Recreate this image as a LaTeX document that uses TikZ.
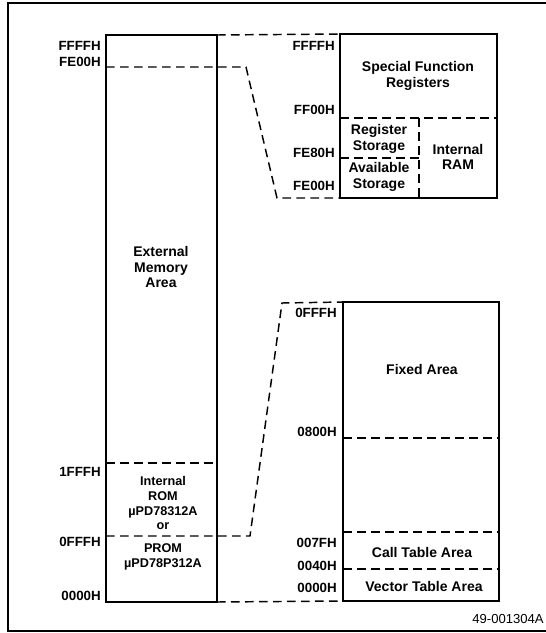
\documentclass[tikz,border=0pt]{standalone}
\usepackage{fontspec}
\setmainfont{Liberation Sans}
\usetikzlibrary{positioning}

\tikzset{
  membox/.style={line width=1.8pt},
  split/.style={line width=1.1pt, dash pattern=on 6.5pt off 4pt},
  addr/.style={font=\fontsize{10}{12}\selectfont\bfseries, anchor=east, inner sep=0pt},
  area/.style={font=\fontsize{10.5}{11.8}\selectfont\bfseries, align=center, inner sep=0pt},
  romtext/.style={font=\fontsize{9.5}{11.2}\selectfont\bfseries, align=center, inner sep=0pt}
}

\begin{document}
\begin{tikzpicture}[x=0.75pt, y=-0.75pt]
\useasboundingbox (0,0) rectangle (546,633);

% Frame
\draw[line width=0.8pt] (546,3) -- (8,3) -- (8,631) -- (546,631);

% Box corners
\coordinate (extNW) at (106,35);
\coordinate (extSE) at (217,602);
\coordinate (sfrNW) at (340,34);
\coordinate (sfrSE) at (497,198);
\coordinate (fixNW) at (343,302);
\coordinate (fixSE) at (499,601);

% Memory boxes
\draw[membox] (extNW) rectangle (extSE);
\draw[membox] (sfrNW) rectangle (sfrSE);
\draw[membox] (fixNW) rectangle (fixSE);

% Splits of the external map
\draw[split] (106,463) -- (217,463);

% Splits of the upper map
\draw[split] (340,118) -- (497,118);
\draw[split] (419,118) -- (419,198);
\draw[split] (340,158) -- (419,158);

% Splits of the lower map
\draw[split] (343,438) -- (499,438);
\draw[split] (343,532) -- (499,532);
\draw[split] (343,569) -- (499,569);

% Mapping connectors
\coordinate (extFE) at (106,67);
\coordinate (bendA) at (246,67);
\coordinate (bendB) at (277,198);
\coordinate (extOF) at (106,536);
\coordinate (bendC) at (250,536);
\coordinate (bendD) at (282,303);
\draw[split] (extNW -| extSE) -- (sfrNW);
\draw[split] (extFE) -- (bendA) -- (bendB) -- (sfrNW |- sfrSE);
\draw[split] (extOF) -- (bendC) -- (bendD) -- (fixNW);
\draw[split] (extSE) -- (fixNW |- fixSE);

% Addresses, external map
\node[addr] (aFFFF) at (101,46) {FFFFH};
\node[addr] (aFE00) at (101,62) {FE00H};
\node[addr] (a1FFF) at (101,472) {1FFFH};
\node[addr] (a0FFF) at (101,542) {0FFFH};
\node[addr] (a0000) at (101,596) {0000H};

% Addresses, upper map
\node[addr] (bFFFF) at (335,46) {FFFFH};
\node[addr] (bFF00) at (335,110) {FF00H};
\node[addr] (bFE80) at (335,153) {FE80H};
\node[addr] (bFE00) at (335,186) {FE00H};

% Addresses, lower map
\node[addr] (c0FFF) at (337,313) {0FFFH};
\node[addr] (c0800) at (337,432) {0800H};
\node[addr] (c007F) at (337,543) {007FH};
\node[addr] (c0040) at (337,566) {0040H};
\node[addr] (c0000) at (337,588) {0000H};

% Area names
\node[area] (extarea) at (161,267) {External\\Memory\\Area};
\node[romtext] (introm) at (163,503) {Internal\\ROM\\µPD78312A\\or};
\node[romtext] (prom) at (163,557) {PROM\\µPD78P312A};
\node[area] (sfr) at (418,76) {Special Function\\Registers};
\node[area] (regst) at (379,139) {Register\\Storage};
\node[area] (avst) at (379,177) {Available\\Storage};
\node[area] (iram) at (458,157) {Internal\\RAM};
\node[area] (fixed) at (422,369) {Fixed Area};
\node[area] (calltab) at (422,552) {Call Table Area};
\node[area] (vectab) at (424,586) {Vector Table Area};

% Figure number
\node[font=\fontsize{9.8}{12}\selectfont, inner sep=0pt] (fignum) at (508,619) {49-001304A};
\end{tikzpicture}
\end{document}
